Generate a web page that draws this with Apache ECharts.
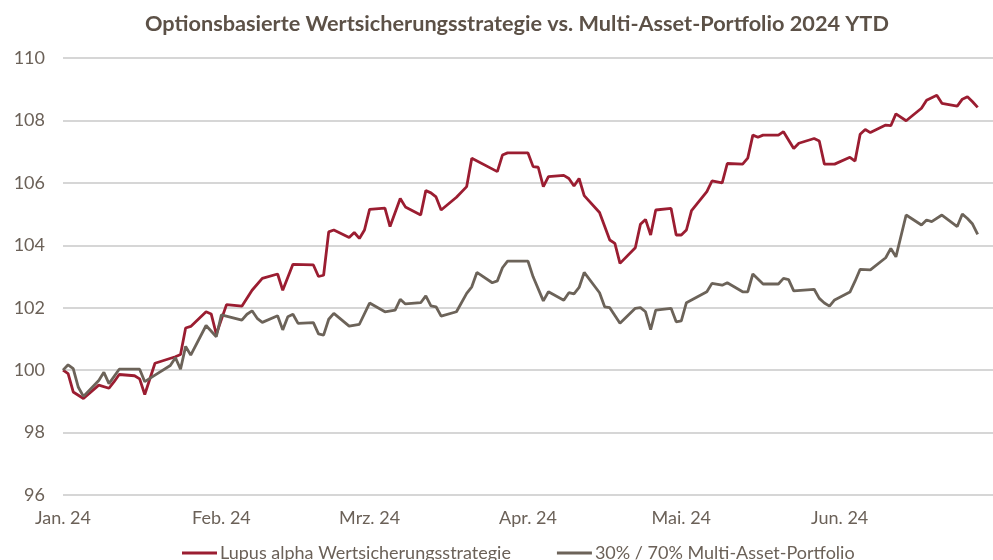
<!DOCTYPE html>
<html>
<head>
<meta charset="utf-8">
<script src="https://cdn.jsdelivr.net/npm/echarts@6/dist/echarts.min.js"></script>
<style>
  html, body { margin: 0; padding: 0; background: #fff; }
  #chart { width: 993px; height: 560px; }
</style>
</head>
<body>
<div id="chart"></div>
<script>
var monthLabels = ['Jan. 24', 'Feb. 24', 'Mrz. 24', 'Apr. 24', 'Mai. 24', 'Jun. 24', 'Jul. 24']
var seriesNames = ['Lupus alpha Wertsicherungsstrategie', '30% / 70% Multi-Asset-Portfolio']

var redDates = [
  '2024-01-01', '2024-01-02', '2024-01-03', '2024-01-05', '2024-01-08', '2024-01-10', '2024-01-11', '2024-01-12',
  '2024-01-15', '2024-01-16', '2024-01-17', '2024-01-19', '2024-01-23', '2024-01-24', '2024-01-25', '2024-01-26',
  '2024-01-29', '2024-01-30', '2024-01-31', '2024-02-02', '2024-02-05', '2024-02-07', '2024-02-09', '2024-02-12',
  '2024-02-13', '2024-02-15', '2024-02-19', '2024-02-20', '2024-02-21', '2024-02-22', '2024-02-23', '2024-02-26',
  '2024-02-27', '2024-02-28', '2024-02-29', '2024-03-01', '2024-03-04', '2024-03-05', '2024-03-07', '2024-03-08',
  '2024-03-11', '2024-03-12', '2024-03-13', '2024-03-14', '2024-03-15', '2024-03-18', '2024-03-20', '2024-03-21',
  '2024-03-26', '2024-03-27', '2024-03-28', '2024-04-01', '2024-04-02', '2024-04-03', '2024-04-04', '2024-04-05',
  '2024-04-08', '2024-04-09', '2024-04-10', '2024-04-11', '2024-04-12', '2024-04-15', '2024-04-17', '2024-04-18',
  '2024-04-19', '2024-04-22', '2024-04-23', '2024-04-24', '2024-04-25', '2024-04-26', '2024-04-29', '2024-04-30',
  '2024-05-01', '2024-05-02', '2024-05-03', '2024-05-06', '2024-05-07', '2024-05-09', '2024-05-10', '2024-05-13',
  '2024-05-14', '2024-05-15', '2024-05-16', '2024-05-17', '2024-05-20', '2024-05-21', '2024-05-23', '2024-05-24',
  '2024-05-27', '2024-05-28', '2024-05-29', '2024-05-31', '2024-06-03', '2024-06-04', '2024-06-05', '2024-06-06',
  '2024-06-07', '2024-06-10', '2024-06-11', '2024-06-12', '2024-06-14', '2024-06-17', '2024-06-18', '2024-06-20',
  '2024-06-21', '2024-06-24', '2024-06-25', '2024-06-26', '2024-06-27', '2024-06-28'
]
var redValues = [
  100.0, 99.89, 99.3, 99.09, 99.52, 99.42, 99.63, 99.86,
  99.82, 99.72, 99.22, 100.22, 100.43, 100.5, 101.35, 101.4,
  101.87, 101.8, 101.15, 102.1, 102.05, 102.56, 102.94, 103.08,
  102.56, 103.39, 103.37, 103.0, 103.04, 104.43, 104.49, 104.25,
  104.41, 104.22, 104.49, 105.15, 105.19, 104.6, 105.5, 105.23,
  104.97, 105.75, 105.68, 105.55, 105.13, 105.54, 105.88, 106.79,
  106.36, 106.89, 106.96, 106.96, 106.52, 106.5, 105.88, 106.2,
  106.24, 106.14, 105.9, 106.14, 105.59, 105.05, 104.17, 104.06,
  103.42, 103.92, 104.67, 104.83, 104.33, 105.13, 105.18, 104.33,
  104.33, 104.49, 105.11, 105.72, 106.06, 106.0, 106.62, 106.6,
  106.79, 107.53, 107.46, 107.53, 107.53, 107.64, 107.1, 107.27,
  107.42, 107.34, 106.6, 106.6, 106.82, 106.7, 107.56, 107.71,
  107.61, 107.85, 107.83, 108.21, 107.99, 108.39, 108.65, 108.81,
  108.55, 108.46, 108.68, 108.76, 108.6, 108.42
]

var grayDates = [
  '2024-01-01', '2024-01-02', '2024-01-03', '2024-01-04', '2024-01-05', '2024-01-08', '2024-01-09', '2024-01-10',
  '2024-01-12', '2024-01-16', '2024-01-17', '2024-01-19', '2024-01-22', '2024-01-23', '2024-01-24', '2024-01-25',
  '2024-01-26', '2024-01-29', '2024-01-31', '2024-02-01', '2024-02-05', '2024-02-06', '2024-02-07', '2024-02-08',
  '2024-02-09', '2024-02-12', '2024-02-13', '2024-02-14', '2024-02-15', '2024-02-16', '2024-02-19', '2024-02-20',
  '2024-02-21', '2024-02-22', '2024-02-23', '2024-02-26', '2024-02-28', '2024-03-01', '2024-03-04', '2024-03-06',
  '2024-03-07', '2024-03-08', '2024-03-11', '2024-03-12', '2024-03-13', '2024-03-14', '2024-03-15', '2024-03-18',
  '2024-03-20', '2024-03-21', '2024-03-22', '2024-03-25', '2024-03-26', '2024-03-27', '2024-03-28', '2024-04-01',
  '2024-04-02', '2024-04-04', '2024-04-05', '2024-04-08', '2024-04-09', '2024-04-10', '2024-04-11', '2024-04-12',
  '2024-04-15', '2024-04-16', '2024-04-17', '2024-04-19', '2024-04-22', '2024-04-23', '2024-04-24', '2024-04-25',
  '2024-04-26', '2024-04-29', '2024-04-30', '2024-05-01', '2024-05-02', '2024-05-06', '2024-05-07', '2024-05-09',
  '2024-05-10', '2024-05-13', '2024-05-14', '2024-05-15', '2024-05-17', '2024-05-20', '2024-05-21', '2024-05-22',
  '2024-05-23', '2024-05-27', '2024-05-28', '2024-05-29', '2024-05-30', '2024-05-31', '2024-06-03', '2024-06-04',
  '2024-06-05', '2024-06-07', '2024-06-10', '2024-06-11', '2024-06-12', '2024-06-14', '2024-06-17', '2024-06-18',
  '2024-06-19', '2024-06-21', '2024-06-24', '2024-06-25', '2024-06-26', '2024-06-27', '2024-06-28'
]
var grayValues = [
  100.0, 100.17, 100.05, 99.45, 99.16, 99.67, 99.93, 99.57,
  100.03, 100.03, 99.63, 99.84, 100.15, 100.4, 100.03, 100.76,
  100.48, 101.43, 101.07, 101.77, 101.6, 101.79, 101.9, 101.66,
  101.53, 101.74, 101.29, 101.71, 101.79, 101.5, 101.52, 101.16,
  101.12, 101.63, 101.82, 101.41, 101.47, 102.15, 101.87, 101.92,
  102.27, 102.12, 102.16, 102.38, 102.06, 102.03, 101.73, 101.87,
  102.46, 102.67, 103.13, 102.8, 102.86, 103.28, 103.49, 103.49,
  102.99, 102.22, 102.51, 102.24, 102.48, 102.44, 102.65, 103.13,
  102.48, 102.03, 102.0, 101.5, 101.98, 102.0, 101.87, 101.3,
  101.92, 101.98, 101.55, 101.58, 102.16, 102.51, 102.78, 102.72,
  102.8, 102.51, 102.51, 103.08, 102.76, 102.76, 102.94, 102.9,
  102.54, 102.59, 102.3, 102.15, 102.05, 102.25, 102.5, 102.85,
  103.23, 103.21, 103.6, 103.9, 103.63, 104.97, 104.65, 104.81,
  104.76, 104.97, 104.6, 105.0, 104.86, 104.68, 104.35
]

var textColor = '#6b6158'
var fontFamily = 'Lato, "Open Sans", sans-serif'

function pairs (dates, values) {
  return dates.map(function (d, i) { return [d, values[i]] })
}

var chartDom = document.getElementById('chart')
var myChart = echarts.init(chartDom, null, { renderer: 'canvas' })

var option = {
  animation: false,
  backgroundColor: '#ffffff',
  title: {
    text: 'Optionsbasierte Wertsicherungsstrategie vs. Multi-Asset-Portfolio 2024 YTD',
    left: 140,
    top: 8,
    textStyle: {
      color: '#5c5147',
      fontSize: 21.7,
      fontWeight: 'bold',
      fontFamily: fontFamily
    }
  },
  legend: {
    left: 177,
    top: 539,
    itemWidth: 35,
    itemHeight: 3,
    itemGap: 46,
    icon: 'rect',
    textStyle: { color: textColor, fontSize: 18, fontFamily: fontFamily, padding: [0, 0, 0, -2] },
    data: seriesNames
  },
  grid: {
    left: 63,
    right: 0,
    top: 58,
    bottom: 65
  },
  xAxis: {
    type: 'time',
    min: '2024-01-01',
    max: '2024-07-01',
    splitNumber: 6,
    axisLine: { show: false },
    axisTick: { show: false },
    splitLine: { show: false },
    axisLabel: {
      color: textColor,
      fontSize: 18,
      fontFamily: fontFamily,
      margin: 14,
      showMaxLabel: false,
      formatter: function (val) {
        return monthLabels[new Date(val).getMonth()]
      }
    }
  },
  yAxis: {
    type: 'value',
    min: 96,
    max: 110,
    interval: 2,
    axisLine: { show: false },
    axisTick: { show: false },
    axisLabel: {
      color: textColor,
      fontSize: 18,
      fontFamily: fontFamily,
      margin: 18
    },
    splitLine: { lineStyle: { color: '#c8c8c8', width: 1.5 } }
  },
  series: [
    {
      name: seriesNames[0],
      type: 'line',
      showSymbol: false,
      symbol: 'none',
      color: '#9b1d31',
      lineStyle: { color: '#9b1d31', width: 2.8 },
      data: pairs(redDates, redValues)
    },
    {
      name: seriesNames[1],
      type: 'line',
      showSymbol: false,
      symbol: 'none',
      color: '#6c6359',
      lineStyle: { color: '#6c6359', width: 2.8 },
      data: pairs(grayDates, grayValues)
    }
  ]
}

option && myChart.setOption(option)
</script>
</body>
</html>
